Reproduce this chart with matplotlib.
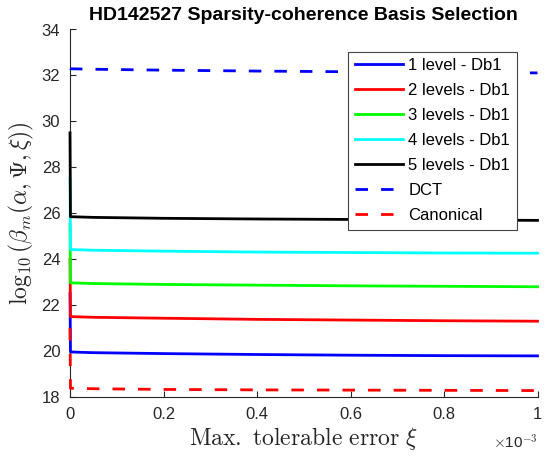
import matplotlib
matplotlib.use('Agg')
import matplotlib.pyplot as plt
from matplotlib.ticker import FuncFormatter

plt.rcParams['font.family'] = ['Liberation Sans', 'DejaVu Sans']
plt.rcParams['mathtext.fontset'] = 'cm'

# ── Data ──────────────────────────────────────────────────────────────────
xi = [0.0, 0.000001, 0.00005, 0.0002, 0.0004, 0.0006, 0.0008, 0.001]

lvl1 = [22.5, 19.96, 19.93, 19.89, 19.85, 19.82, 19.80, 19.79]
lvl2 = [24.0, 21.50, 21.47, 21.43, 21.38, 21.35, 21.32, 21.30]
lvl3 = [25.5, 22.97, 22.94, 22.90, 22.87, 22.84, 22.82, 22.80]
lvl4 = [27.5, 24.42, 24.39, 24.35, 24.31, 24.29, 24.27, 24.26]
lvl5 = [29.5, 25.85, 25.82, 25.78, 25.75, 25.73, 25.71, 25.69]
dct = [32.30, 32.29, 32.27, 32.23, 32.19, 32.16, 32.13, 32.11]
canon = [21.0, 18.38, 18.36, 18.33, 18.31, 18.30, 18.29, 18.28]

labels = ['1 level - Db1', '2 levels - Db1', '3 levels - Db1',
          '4 levels - Db1', '5 levels - Db1', 'DCT', 'Canonical']
colors = ['#0000ff', '#ff0000', '#00ff00', '#00ffff', '#000000',
          '#0000ff', '#ff0000']

AXC = '#262626'
DASH = (0, (4.5, 4.7))

fig = plt.figure(figsize=(5.44, 4.61), dpi=100)
# axes box in pixels: x 70..537.5, y 29.5..397
ax = fig.add_axes([70 / 544, 64 / 461, 467.5 / 544, 367.5 / 461])

series = [lvl1, lvl2, lvl3, lvl4, lvl5, dct, canon]
for i, (ys, lab, c) in enumerate(zip(series, labels, colors)):
    ls = '-' if i < 5 else DASH
    ax.plot(xi, ys, color=c, lw=2.0, linestyle=ls, label=lab,
            clip_on=False, zorder=3)

ax.set_xlim(0, 0.001)
ax.set_ylim(18, 34)
ax.set_xticks([0, 0.0002, 0.0004, 0.0006, 0.0008, 0.001])
ax.set_yticks(range(18, 35, 2))
ax.xaxis.set_major_formatter(FuncFormatter(lambda v, p: '%g' % round(v * 1e3, 6)))

for s in ['top', 'right']:
    ax.spines[s].set_visible(False)
for s in ['left', 'bottom']:
    ax.spines[s].set_color(AXC)
    ax.spines[s].set_linewidth(0.8)
    ax.spines[s].set_zorder(2)
ax.tick_params(direction='in', length=4, width=0.8, colors=AXC,
               labelsize=12, labelcolor=AXC, pad=7)

ax.text(1.0, -0.1, r'$\times$10$^{-3}$', transform=ax.transAxes,
        ha='right', va='top', fontsize=11, color=AXC)

ax.set_xlabel(r'$\mathrm{Max.\ tolerable\ error}\ \xi$', fontsize=17,
              color=AXC, labelpad=2)
ax.set_ylabel(r'$\log_{10}(\beta_m(\alpha,\Psi,\xi))$', fontsize=17,
              color=AXC, labelpad=4)
ax.set_title('HD142527 Sparsity-coherence Basis Selection', fontsize=14,
             fontweight='bold', pad=7)

leg = ax.legend(loc='upper right', bbox_to_anchor=(0.956, 0.94),
                fontsize=12, handlelength=2.9, labelspacing=0.6,
                handletextpad=0.3, borderpad=0.4, fancybox=False,
                framealpha=1, borderaxespad=0)
leg.get_frame().set_edgecolor('#444444')
leg.get_frame().set_linewidth(0.8)

plt.savefig('out.png', dpi=100, facecolor='white')
plt.close()
